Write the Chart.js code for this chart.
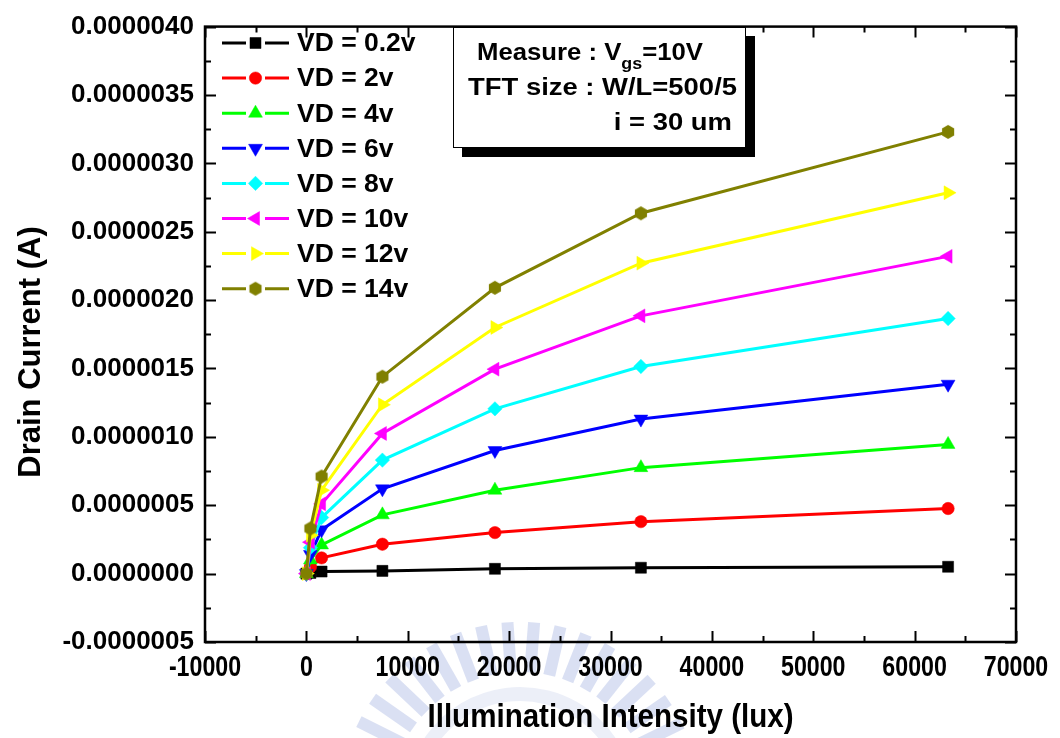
<!DOCTYPE html>
<html>
<head>
<meta charset="utf-8">
<script src="https://cdn.jsdelivr.net/npm/chart.js@4.4.1/dist/chart.umd.min.js"></script>
<style>
  html, body { margin: 0; padding: 0; background: #ffffff; }
  #wrap { width: 1060px; height: 738px; position: relative; }
</style>
</head>
<body>
<div id="wrap"><canvas id="c" width="1060" height="738"></canvas></div>
<script>
// Illumination intensity (lux) of each measurement
const illumination = [0, 400, 1500, 7500, 18600, 33000, 63300];

// Drain current (A) for each drain voltage
const idVd0p2 = [0, 0.005e-6, 0.015e-6, 0.020e-6, 0.035e-6, 0.043e-6, 0.050e-6];
const idVd2   = [0, 0.050e-6, 0.115e-6, 0.215e-6, 0.300e-6, 0.380e-6, 0.476e-6];
const idVd4   = [0, 0.100e-6, 0.210e-6, 0.430e-6, 0.610e-6, 0.775e-6, 0.945e-6];
const idVd6   = [0, 0.140e-6, 0.320e-6, 0.620e-6, 0.900e-6, 1.130e-6, 1.385e-6];
const idVd8   = [0, 0.190e-6, 0.410e-6, 0.830e-6, 1.205e-6, 1.515e-6, 1.865e-6];
const idVd10  = [0, 0.230e-6, 0.510e-6, 1.025e-6, 1.495e-6, 1.885e-6, 2.320e-6];
const idVd12  = [0, 0.280e-6, 0.610e-6, 1.235e-6, 1.800e-6, 2.270e-6, 2.785e-6];
const idVd14  = [0, 0.330e-6, 0.710e-6, 1.440e-6, 2.090e-6, 2.635e-6, 3.230e-6];

const seriesLabels = ['VD = 0.2v', 'VD = 2v', 'VD = 4v', 'VD = 6v', 'VD = 8v', 'VD = 10v', 'VD = 12v', 'VD = 14v'];

// Axis tick labels
const xTickValues = [-10000, 0, 10000, 20000, 30000, 40000, 50000, 60000, 70000];
const yTickValues = [-0.0000005, 0, 0.0000005, 0.000001, 0.0000015, 0.000002, 0.0000025, 0.000003, 0.0000035, 0.000004];

const xTitle = 'Illumination Intensity (lux)';
const yTitle = 'Drain Current (A)';

// Measurement conditions shown in the note box
const noteLine1 = ['Measure : V', 'gs', '=10V'];
const noteLine2 = 'TFT size : W/L=500/5';
const noteLine3 = 'i = 30 um';

const FONT = '"Liberation Sans", Arial, sans-serif';

function hexagonImage(color, r) {
  const size = Math.ceil(2 * r + 2);
  const c = document.createElement('canvas');
  c.width = size; c.height = size;
  const g = c.getContext('2d');
  g.fillStyle = color;
  g.beginPath();
  for (let k = 0; k < 6; k++) {
    const a = -Math.PI / 2 + k * Math.PI / 3;
    const px = size / 2 + r * Math.cos(a), py = size / 2 + r * Math.sin(a);
    if (k === 0) g.moveTo(px, py); else g.lineTo(px, py);
  }
  g.closePath();
  g.fill();
  return c;
}

const seriesValues = [idVd0p2, idVd2, idVd4, idVd6, idVd8, idVd10, idVd12, idVd14];
const seriesColors = ['#000000', '#ff0000', '#00ff00', '#0000ff', '#00ffff', '#ff00ff', '#ffff00', '#808000'];
const seriesMarkers = [
  { style: 'rect', rotation: 0, radius: 7.8 },
  { style: 'circle', rotation: 0, radius: 6.2 },
  { style: 'triangle', rotation: 0, radius: 8 },
  { style: 'triangle', rotation: 180, radius: 8 },
  { style: 'rectRot', rotation: 0, radius: 7.2 },
  { style: 'triangle', rotation: 270, radius: 8 },
  { style: 'triangle', rotation: 90, radius: 8 },
  { style: hexagonImage('#808000', 7), rotation: 0, radius: 7 }
];

const datasets = seriesValues.map((vals, i) => ({
  label: seriesLabels[i],
  data: illumination.map((lx, j) => ({ x: lx, y: vals[j] })),
  borderColor: seriesColors[i],
  backgroundColor: seriesColors[i],
  borderWidth: 3,
  pointStyle: seriesMarkers[i].style,
  rotation: seriesMarkers[i].rotation,
  pointRadius: seriesMarkers[i].radius,
  pointHoverRadius: seriesMarkers[i].radius,
  pointBorderWidth: 0.5,
  pointBorderColor: seriesColors[i],
  pointBackgroundColor: seriesColors[i],
  tension: 0,
  order: seriesValues.length - i
}));

// Faint emblem printed behind the plot
const emblem = {
  id: 'emblem',
  beforeDraw(chart) {
    const ctx = chart.ctx;
    ctx.save();
    const cx = 520, cy = 802;
    ctx.fillStyle = 'rgba(140,158,218,0.32)';
    for (let a = 198; a <= 338; a += 8.5) {
      const rad = a * Math.PI / 180;
      ctx.save();
      ctx.translate(cx, cy);
      ctx.rotate(rad + Math.PI / 2);
      ctx.fillRect(-6, -180, 12, 50);
      ctx.restore();
    }
    ctx.strokeStyle = 'rgba(160,175,222,0.2)';
    ctx.lineWidth = 14;
    ctx.beginPath();
    ctx.arc(cx, cy, 108, Math.PI * 1.08, Math.PI * 1.92);
    ctx.stroke();
    ctx.restore();
  }
};

// Boxed frame with inward major and minor ticks on all four sides
const frame = {
  id: 'frame',
  afterDraw(chart) {
    const { ctx, chartArea: a, scales: { x, y } } = chart;
    ctx.save();
    ctx.strokeStyle = '#000';
    ctx.lineCap = 'butt';
    ctx.lineWidth = 2;
    const major = 11, minor = 6;
    const xs = [];
    for (let i = 0; i < xTickValues.length; i++) {
      xs.push([xTickValues[i], major]);
      if (i < xTickValues.length - 1) xs.push([(xTickValues[i] + xTickValues[i + 1]) / 2, minor]);
    }
    ctx.beginPath();
    xs.forEach(([v, len]) => {
      const px = Math.round(x.getPixelForValue(v)) + 0.5;
      ctx.moveTo(px, a.bottom); ctx.lineTo(px, a.bottom - len);
      ctx.moveTo(px, a.top); ctx.lineTo(px, a.top + len);
    });
    const ys = [];
    for (let i = 0; i < yTickValues.length; i++) {
      ys.push([yTickValues[i], major]);
      if (i < yTickValues.length - 1) ys.push([(yTickValues[i] + yTickValues[i + 1]) / 2, minor]);
    }
    ys.forEach(([v, len]) => {
      const py = Math.round(y.getPixelForValue(v)) + 0.5;
      ctx.moveTo(a.left, py); ctx.lineTo(a.left + len, py);
      ctx.moveTo(a.right, py); ctx.lineTo(a.right - len, py);
    });
    ctx.stroke();
    ctx.lineWidth = 2.5;
    ctx.strokeRect(a.left, a.top, a.right - a.left, a.bottom - a.top);
    ctx.restore();
  }
};

// Condensed labels along the illumination axis, placed by the x scale
const xAxisText = {
  id: 'xAxisText',
  afterDraw(chart) {
    const { ctx, scales: { x } } = chart;
    ctx.save();
    ctx.fillStyle = '#000';
    ctx.textAlign = 'center';
    ctx.textBaseline = 'alphabetic';
    ctx.font = 'bold 29px ' + FONT;
    x.ticks.forEach(t => {
      const px = x.getPixelForValue(t.value);
      ctx.save();
      ctx.translate(px, 675.5);
      ctx.scale(0.8, 1);
      ctx.fillText(String(t.value), 0, 0);
      ctx.restore();
    });
    ctx.font = 'bold 34px ' + FONT;
    const w = ctx.measureText(xTitle).width;
    ctx.translate((x.left + x.right) / 2, 727);
    ctx.scale(366 / w, 1);
    ctx.fillText(xTitle, 0, 0);
    ctx.restore();
  }
};

// Legend: line - marker - line, then label
const seriesLegend = {
  id: 'seriesLegend',
  afterDraw(chart) {
    const ctx = chart.ctx;
    ctx.save();
    chart.data.datasets.forEach((ds, i) => {
      const cy = 43 + i * 35.1;
      ctx.strokeStyle = ds.borderColor;
      ctx.lineWidth = 3;
      ctx.beginPath();
      ctx.moveTo(222, cy); ctx.lineTo(246, cy);
      ctx.moveTo(265, cy); ctx.lineTo(289, cy);
      ctx.stroke();
      ctx.fillStyle = ds.pointBackgroundColor;
      ctx.strokeStyle = ds.pointBorderColor;
      ctx.lineWidth = 0.5;
      Chart.helpers.drawPoint(ctx, {
        pointStyle: ds.pointStyle, rotation: ds.rotation, radius: ds.pointRadius, borderWidth: 0.5
      }, 255.5, cy);
      ctx.fillStyle = '#000';
      ctx.font = 'bold 26.5px ' + FONT;
      ctx.textAlign = 'left';
      ctx.textBaseline = 'middle';
      ctx.fillText(ds.label, 297, cy + 1);
    });
    ctx.restore();
  }
};

// Draws text runs [text, fontSize, dy] from x, stretched horizontally by sx
function drawRuns(ctx, runs, x, baseline, sx) {
  ctx.save();
  ctx.translate(x, baseline);
  ctx.scale(sx, 1);
  let cx = 0;
  runs.forEach(([t, size, dy]) => {
    ctx.font = 'bold ' + size + 'px ' + FONT;
    ctx.fillText(t, cx, dy);
    cx += ctx.measureText(t).width;
  });
  ctx.restore();
}
function runsWidth(ctx, runs) {
  let w = 0;
  runs.forEach(([t, size]) => { ctx.font = 'bold ' + size + 'px ' + FONT; w += ctx.measureText(t).width; });
  return w;
}

// Note box with drop shadow
const noteBox = {
  id: 'noteBox',
  afterDraw(chart) {
    const ctx = chart.ctx;
    ctx.save();
    ctx.fillStyle = '#000';
    ctx.fillRect(462, 36, 293, 121);
    ctx.fillStyle = '#fff';
    ctx.fillRect(453, 27, 293, 121);
    ctx.strokeStyle = '#000';
    ctx.lineWidth = 1;
    ctx.strokeRect(453.5, 27.5, 292, 120);
    ctx.fillStyle = '#000';
    ctx.textBaseline = 'alphabetic';
    ctx.textAlign = 'left';
    const r1 = [[noteLine1[0], 23, 0], [noteLine1[1], 16, 9], [noteLine1[2], 23, 0]];
    const r2 = [[noteLine2, 23, 0]];
    const r3 = [[noteLine3, 23, 0]];
    const s1 = 226 / runsWidth(ctx, r1);
    const s2 = 269 / runsWidth(ctx, r2);
    drawRuns(ctx, r1, 477, 60, s1);
    drawRuns(ctx, r2, 468, 95, s2);
    drawRuns(ctx, r3, 732 - runsWidth(ctx, r3) * s2, 130, s2);
    ctx.restore();
  }
};

// Vertical title for the current axis
const yAxisTitle = {
  id: 'yAxisTitle',
  afterDraw(chart) {
    const ctx = chart.ctx;
    ctx.save();
    ctx.translate(31, 352);
    ctx.rotate(-Math.PI / 2);
    ctx.fillStyle = '#000';
    ctx.font = 'bold 31px ' + FONT;
    ctx.textAlign = 'center';
    ctx.textBaseline = 'middle';
    ctx.fillText(yTitle, 0, 0);
    ctx.restore();
  }
};

new Chart(document.getElementById('c'), {
  type: 'line',
  data: { datasets },
  options: {
    responsive: false,
    animation: false,
    devicePixelRatio: 1,
    layout: { padding: { top: 21, right: 44, left: 0, bottom: 0 } },
    plugins: { legend: { display: false }, tooltip: { enabled: false } },
    scales: {
      x: {
        type: 'linear',
        min: -10000, max: 70000,
        afterFit(s) { s.height = 96; },
        afterBuildTicks(s) { s.ticks = xTickValues.map(v => ({ value: v })); },
        grid: { display: false, drawTicks: false },
        border: { display: false },
        ticks: { display: false },
        title: { display: false, text: xTitle }
      },
      y: {
        type: 'linear',
        min: -0.0000005, max: 0.000004,
        afterFit(s) { s.width = 205; },
        afterBuildTicks(s) { s.ticks = yTickValues.map(v => ({ value: v })); },
        grid: { display: false, drawTicks: false },
        border: { display: false },
        ticks: {
          padding: 11,
          color: '#000',
          autoSkip: false,
          font: { family: FONT, size: 26, weight: 'bold' },
          callback: v => (Math.abs(v) < 1e-12 ? 0 : v).toFixed(7)
        }
      }
    }
  },
  plugins: [emblem, frame, xAxisText, seriesLegend, noteBox, yAxisTitle]
});
</script>
</body>
</html>
